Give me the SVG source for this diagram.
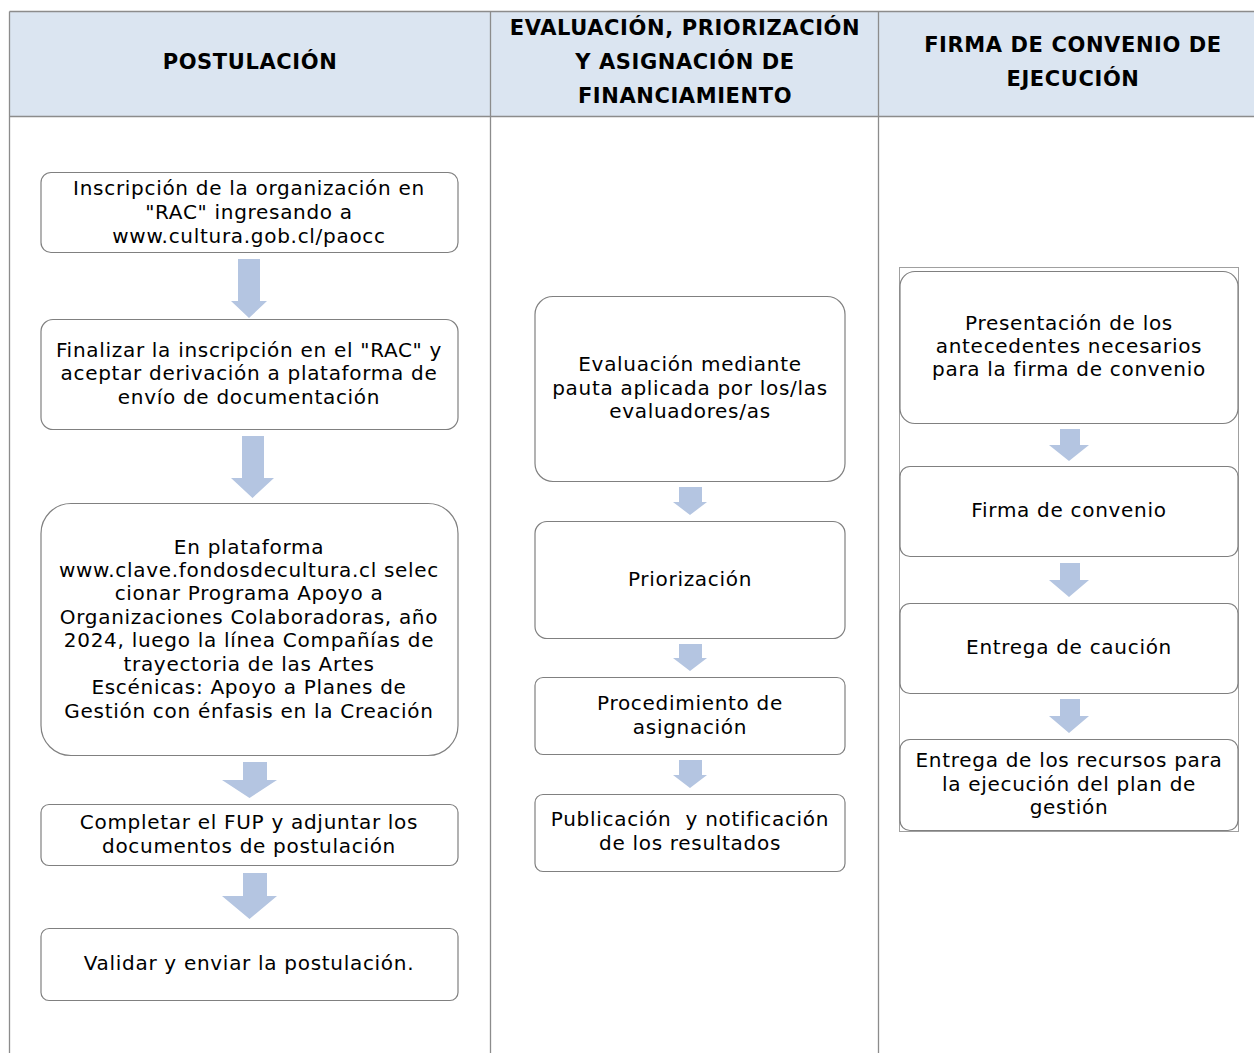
<svg xmlns="http://www.w3.org/2000/svg" width="1254" height="1053" viewBox="0 0 1254 1053">
<style>
.t{font-family:"DejaVu Sans",Verdana,sans-serif;font-size:20px;letter-spacing:0.7px;fill:#000;text-anchor:middle}
.h{font-family:"DejaVu Sans",Verdana,sans-serif;font-size:21px;letter-spacing:0.6px;font-weight:bold;fill:#000;text-anchor:middle}
.b{fill:#fff;stroke:#808080;stroke-width:1.2}
.ln{stroke:#8c8c8c;stroke-width:1.3;fill:none}
.ar{fill:#b4c5e1}
</style>
<rect width="1254" height="1053" fill="#fff"/>
<g id="table">
<rect x="9.5" y="11.5" width="1250" height="105" fill="#dbe5f1"/>
<path class="ln" d="M9.5 11.5H1254M9.5 116.5H1254M9.5 11.5V1053M490.5 11.5V1053M878.5 11.5V1053"/>
<text class="h" x="250" y="68.5">POSTULACIÓN</text>
<text class="h" x="685" y="34.5">EVALUACIÓN, PRIORIZACIÓN</text>
<text class="h" x="685" y="68.5">Y ASIGNACIÓN DE</text>
<text class="h" x="685" y="102.5">FINANCIAMIENTO</text>
<text class="h" x="1073" y="51.5">FIRMA DE CONVENIO DE</text>
<text class="h" x="1073" y="85.5">EJECUCIÓN</text>
</g>
<g id="connectors">
<path class="ar" d="M238 259H260V301H267L249 318L231 301H238Z"/>
<path class="ar" d="M242 436H264V478H274L252.5 498L231 478H242Z"/>
<path class="ar" d="M243 762H267V780H277L249.5 798L222 780H243Z"/>
<path class="ar" d="M243 873H267V896H277L249.5 919L222 896H243Z"/>
<path class="ar" d="M679 487H702V502H707L690 515L673 502H679Z"/>
<path class="ar" d="M679 644H702V658H707L690 671L673 658H679Z"/>
<path class="ar" d="M679 760H702V775H707L690 788L673 775H679Z"/>
<path class="ar" d="M1060 429H1080V445H1089L1069 461L1049 445H1060Z"/>
<path class="ar" d="M1060 563H1080V580H1089L1069 597L1049 580H1060Z"/>
<path class="ar" d="M1060 699H1080V716H1089L1069 733L1049 716H1060Z"/>
</g>
<g id="n1"><rect class="b" x="41" y="172.5" width="417" height="80" rx="10"/>
<text class="t" x="249" y="195">Inscripción de la organización en</text>
<text class="t" x="249" y="219">"RAC" ingresando a</text>
<text class="t" x="249" y="243">www.cultura.gob.cl/paocc</text></g>
<g id="n2"><rect class="b" x="41" y="319.5" width="417" height="110" rx="12"/>
<text class="t" x="249" y="357">Finalizar la inscripción en el "RAC" y</text>
<text class="t" x="249" y="380">aceptar derivación a plataforma de</text>
<text class="t" x="249" y="404">envío de documentación</text></g>
<g id="n3"><rect class="b" x="41" y="503.5" width="417" height="252" rx="30"/>
<text class="t" x="249" y="554">En plataforma</text>
<text class="t" x="249" y="577">www.clave.fondosdecultura.cl selec</text>
<text class="t" x="249" y="600">cionar Programa Apoyo a</text>
<text class="t" x="249" y="624">Organizaciones Colaboradoras, año</text>
<text class="t" x="249" y="647">2024, luego la línea Compañías de</text>
<text class="t" x="249" y="671">trayectoria de las Artes</text>
<text class="t" x="249" y="694">Escénicas: Apoyo a Planes de</text>
<text class="t" x="249" y="718">Gestión con énfasis en la Creación</text></g>
<g id="n4"><rect class="b" x="41" y="804.5" width="417" height="61" rx="8"/>
<text class="t" x="249" y="829">Completar el FUP y adjuntar los</text>
<text class="t" x="249" y="853">documentos de postulación</text></g>
<g id="n5"><rect class="b" x="41" y="928.5" width="417" height="72" rx="8"/>
<text class="t" x="249" y="970">Validar y enviar la postulación.</text></g>
<g id="m1"><rect class="b" x="535" y="296.5" width="310" height="185" rx="18"/>
<text class="t" x="690" y="371">Evaluación mediante</text>
<text class="t" x="690" y="395">pauta aplicada por los/las</text>
<text class="t" x="690" y="418">evaluadores/as</text></g>
<g id="m2"><rect class="b" x="535" y="521.5" width="310" height="117" rx="12"/>
<text class="t" x="690" y="586">Priorización</text></g>
<g id="m3"><rect class="b" x="535" y="677.5" width="310" height="77" rx="8"/>
<text class="t" x="690" y="710">Procedimiento de</text>
<text class="t" x="690" y="734">asignación</text></g>
<g id="m4"><rect class="b" x="535" y="794.5" width="310" height="77" rx="8"/>
<text class="t" x="690" y="826" xml:space="preserve">Publicación  y notificación</text>
<text class="t" x="690" y="850">de los resultados</text></g>
<g id="c0"><rect x="899.5" y="267.5" width="339" height="564" fill="none" stroke="#a0a0a0" stroke-width="1"/></g>
<g id="r1"><rect class="b" x="900" y="271.5" width="338" height="152" rx="15"/>
<text class="t" x="1069" y="330">Presentación de los</text>
<text class="t" x="1069" y="353">antecedentes necesarios</text>
<text class="t" x="1069" y="376">para la firma de convenio</text></g>
<g id="r2"><rect class="b" x="900" y="466.5" width="338" height="90" rx="10"/>
<text class="t" x="1069" y="517">Firma de convenio</text></g>
<g id="r3"><rect class="b" x="900" y="603.5" width="338" height="90" rx="10"/>
<text class="t" x="1069" y="654">Entrega de caución</text></g>
<g id="r4"><rect class="b" x="900" y="739.5" width="338" height="91" rx="10"/>
<text class="t" x="1069" y="767">Entrega de los recursos para</text>
<text class="t" x="1069" y="791">la ejecución del plan de</text>
<text class="t" x="1069" y="814">gestión</text></g>
</svg>
